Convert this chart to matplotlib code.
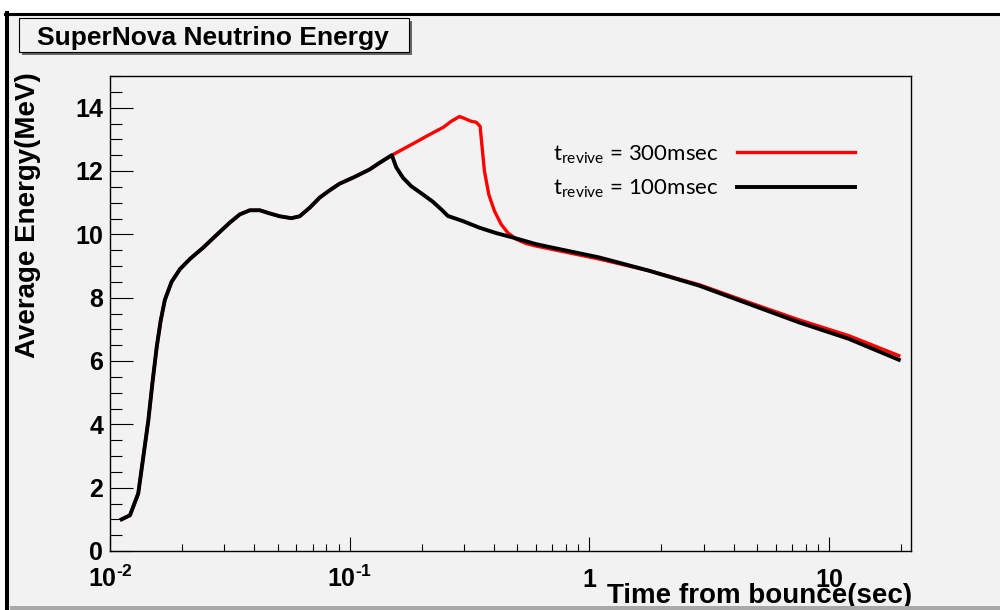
import matplotlib
matplotlib.use('Agg')
import matplotlib.pyplot as plt
from matplotlib.patches import Rectangle
from matplotlib.lines import Line2D
from matplotlib.ticker import FixedLocator, MultipleLocator

plt.rcParams['mathtext.fontset'] = 'custom'
plt.rcParams['mathtext.rm'] = 'Lato'
plt.rcParams['mathtext.bf'] = 'Liberation Sans:bold'

# common part of both curves, up to shock revival
t_early = [0.01119, 0.01212, 0.01312, 0.01377, 0.01445, 0.01507, 0.01566, 0.01627,
           0.01694, 0.01807, 0.01958, 0.02154, 0.02448, 0.02783, 0.03162, 0.03481,
           0.03831, 0.04217, 0.04642, 0.0511, 0.05711, 0.06189, 0.06813, 0.07499,
           0.08254, 0.0908, 0.1033, 0.1212, 0.1334, 0.1500]
e_early = [1.00, 1.13, 1.82, 2.97, 4.12, 5.38, 6.43, 7.27,
           7.93, 8.50, 8.90, 9.22, 9.58, 9.98, 10.37, 10.63,
           10.76, 10.76, 10.66, 10.57, 10.51, 10.57, 10.84, 11.16,
           11.39, 11.60, 11.79, 12.05, 12.26, 12.50]

# t_revive = 100 msec
t_100 = [0.1564, 0.1668, 0.1807, 0.2021, 0.2224, 0.241, 0.257, 0.2965, 0.348,
         0.4084, 0.4795, 0.5999, 0.681, 1.1, 1.778, 2.873, 4.64, 7.5, 12.1, 19.57]
e_100 = [12.12, 11.79, 11.52, 11.26, 11.03, 10.79, 10.58, 10.42, 10.21,
         10.04, 9.90, 9.69, 9.60, 9.27, 8.85, 8.38, 7.80, 7.22, 6.70, 6.04]

# t_revive = 300 msec
t_300 = [0.1836, 0.2154, 0.246, 0.2655, 0.2873, 0.3014, 0.3214, 0.3373, 0.3503,
         0.3573, 0.3651, 0.3807, 0.4019, 0.4285, 0.4571, 0.4948, 0.5445, 0.5999,
         1.1, 1.778, 2.873, 4.64, 7.5, 12.1, 19.57]
e_300 = [12.86, 13.15, 13.38, 13.57, 13.72, 13.66, 13.57, 13.54, 13.41,
         12.73, 12.00, 11.26, 10.74, 10.32, 10.05, 9.85, 9.71, 9.63,
         9.22, 8.85, 8.41, 7.85, 7.30, 6.80, 6.17]

x_major = [0.01, 0.1, 1, 10]
x_major_labels = ['$\\mathbf{10^{\u20102}}$', '$\\mathbf{10^{\u20101}}$', '1', '10']
x_minor = [k * 10.0 ** p for p in (-2, -1, 0) for k in range(2, 10)] + [20]

BG = '#f2f2f2'
W, H = 1000, 610


def fx(px):
    return px / W


def fy(py):
    return 1 - py / H


fig = plt.figure(figsize=(10, 6.1), dpi=100, facecolor='white')

# canvas frame
fig.add_artist(Rectangle((fx(7), 0), 1, fy(13), transform=fig.transFigure,
                         facecolor=BG, edgecolor='none', zorder=-10))
fig.add_artist(Line2D([fx(5), 1], [fy(13.5)] * 2, transform=fig.transFigure,
                      color='black', lw=2.2))
fig.add_artist(Line2D([fx(7)] * 2, [0, fy(13)], transform=fig.transFigure,
                      color='black', lw=2.9))
fig.add_artist(Rectangle((fx(10), 0), 1, 4.5 / H, transform=fig.transFigure,
                         facecolor='#a9a9a9', edgecolor='none', zorder=10))

# title box with shadow
fig.add_artist(Rectangle((fx(22), fy(55)), 390 / W, 34 / H, transform=fig.transFigure,
                         facecolor='#666666', edgecolor='none'))
fig.add_artist(Rectangle((fx(19), fy(52)), 390 / W, 34 / H, transform=fig.transFigure,
                         facecolor=BG, edgecolor='black', lw=0.8))
fig.text(fx(213), fy(45), 'SuperNova Neutrino Energy', ha='center', va='baseline',
         fontsize=19, fontweight='bold', family='Liberation Sans')

ax = fig.add_axes([fx(110), fy(551), (911 - 110) / W, (551 - 76) / H])
ax.set_facecolor(BG)

ax.plot(t_early + t_300, e_early + e_300, color='#ff0000', lw=2.4,
        solid_joinstyle='round', label=r'$\mathrm{t}_{\mathrm{revive}}$ = 300msec')
ax.plot(t_early + t_100, e_early + e_100, color='black', lw=2.8,
        solid_joinstyle='round', label=r'$\mathrm{t}_{\mathrm{revive}}$ = 100msec')

ax.set_xscale('log')
ax.set_xlim(0.01, 22)
ax.set_ylim(0, 15)

for s in ax.spines.values():
    s.set_linewidth(1.0)

ax.tick_params(axis='x', which='major', direction='in', length=10, width=0.8,
               top=False, labelsize=18, pad=26)
ax.tick_params(axis='x', which='minor', direction='in', length=5, width=0.8, top=False)
ax.tick_params(axis='y', which='major', direction='in', length=16.5, width=0.8,
               right=False, labelsize=18, pad=5)
ax.tick_params(axis='y', which='minor', direction='in', length=8.6, width=0.8, right=False)

ax.xaxis.set_minor_locator(FixedLocator(x_minor))
ax.xaxis.set_minor_formatter(plt.NullFormatter())
ax.set_xticks(x_major, x_major_labels, family='Liberation Sans', fontweight='bold',
              va='baseline')
ax.set_yticks(range(0, 15, 2))
ax.yaxis.set_minor_locator(MultipleLocator(0.5))
for lab in ax.get_yticklabels():
    lab.set_family('Liberation Sans')
    lab.set_fontweight('bold')

fig.text(fx(28), fy(72), 'Average Energy(MeV)', rotation=90, ha='center', va='top',
         fontsize=20, fontweight='bold', family='Liberation Sans')
fig.text(fx(912), fy(603), 'Time from bounce(sec)', ha='right', va='baseline',
         fontsize=20, fontweight='bold', family='Liberation Sans')

ax.legend(loc='upper left', bbox_to_anchor=(fx(553), fy(143)), bbox_transform=fig.transFigure,
          frameon=False, markerfirst=False, prop={'family': 'Lato', 'size': 16},
          handlelength=5.3, handletextpad=0.85, labelspacing=0.55,
          borderpad=0, borderaxespad=0)

fig.savefig('out.png', dpi=100, facecolor=fig.get_facecolor())
